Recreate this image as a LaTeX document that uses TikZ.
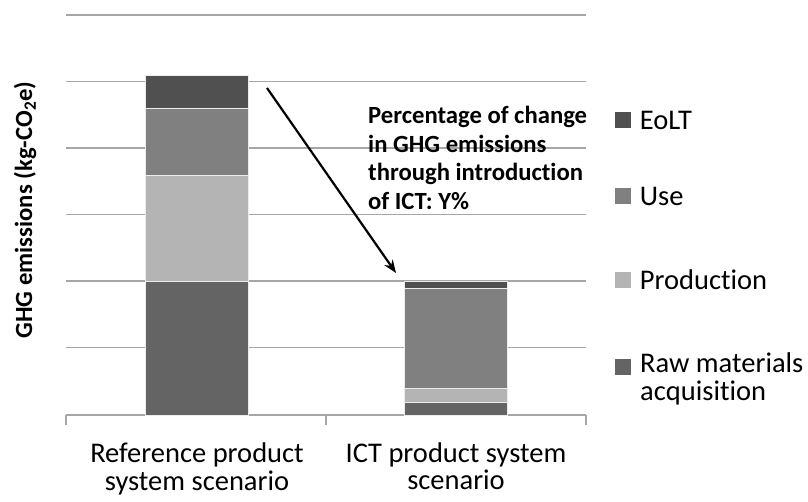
\documentclass[tikz,border=0pt]{standalone}
\usepackage{fontspec}
\setmainfont{Carlito}[Ligatures=NoCommon]
\usetikzlibrary{positioning,arrows.meta}
\definecolor{eolt}{HTML}{505050}
\definecolor{use}{HTML}{808080}
\definecolor{prod}{HTML}{B4B4B4}
\definecolor{raw}{HTML}{646464}
\definecolor{gridgray}{HTML}{A6A6A6}
\tikzset{
  gridline/.style={draw=gridgray, line width=1.3},
  segment/.style={draw=white!85!gray, line width=0.5},
  legkey/.style={minimum size=16, inner sep=0},
  plaintext/.style={inner sep=0, font=\fontsize{28.5}{27.5}\selectfont},
  legtext/.style={plaintext, anchor=west},
  boldtext/.style={inner sep=0, font=\bfseries\fontsize{24.7}{28.7}\selectfont},
}
\begin{document}
\begin{tikzpicture}[x=1pt, y=-1pt]
    \useasboundingbox (0,0) rectangle (808,502);
    % grid and axis
    \foreach \y in {15,81.5,148,214.5,281,347.5,415}
        \draw [gridline] (66,\y) -- (586,\y) ;
    \foreach \x in {66,326,586}
        \draw [gridline] (\x,415) -- ++(0,10) ;
    % reference product system
    \filldraw [segment, fill=raw] (145,281) rectangle (248,415) ;
    \filldraw [segment, fill=prod] (145,175) rectangle (248,281) ;
    \filldraw [segment, fill=use] (145,108) rectangle (248,175) ;
    \filldraw [segment, fill=eolt] (145,75) rectangle (248,108) ;
    % ICT product system
    \filldraw [segment, fill=raw] (404,402) rectangle (507,415) ;
    \filldraw [segment, fill=prod] (404,388) rectangle (507,402) ;
    \filldraw [segment, fill=use] (404,288) rectangle (507,388) ;
    \filldraw [segment, fill=eolt] (404,281) rectangle (507,288) ;
    % change arrow
    \coordinate (from) at (267,88) ;
    \coordinate (to) at (396,273) ;
    \draw [-{Stealth[length=13, width=10]}, line width=2.2] (from) -- (to) ;
    \node [boldtext, anchor=north west, align=left] (change) at (368,106)
        {Percentage of change\\in GHG emissions\\through introduction\\of ICT: Y\%} ;
    % axis labels
    \node [boldtext, rotate=90] (ylabel) at (25,210)
        {GHG emissions (kg-CO\textsubscript{2}e)} ;
    \node [plaintext, align=center] (refcat) at (197,469)
        {Reference product\\system scenario} ;
    \node [plaintext, align=center] (ictcat) at (456,466)
        {ICT product system\\scenario} ;
    % legend
    \node [legkey, fill=eolt] (keolt) at (622.5,120) {} ;
    \node [legtext, right=9 of keolt] (leolt) {EoLT} ;
    \node [legkey, fill=use] (kuse) at (622.5,196) {} ;
    \node [legtext, right=9 of kuse] (luse) {Use} ;
    \node [legkey, fill=prod] (kprod) at (622.5,280) {} ;
    \node [legtext, right=9 of kprod] (lprod) {Production} ;
    \node [legkey, fill=raw] (kraw) at (622.5,366.5) {} ;
    \node [plaintext, anchor=north west, align=left] (lraw) at (640,353)
        {Raw materials\\acquisition} ;
\end{tikzpicture}
\end{document}
